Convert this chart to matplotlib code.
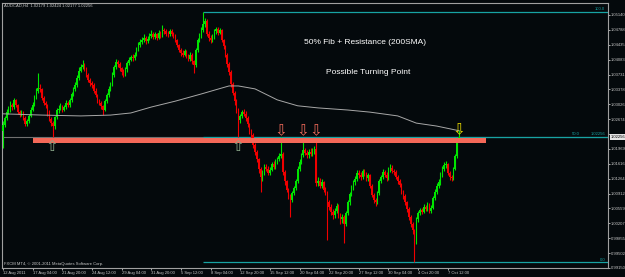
import numpy as np
import matplotlib.pyplot as plt
from matplotlib.patches import Rectangle
import matplotlib.transforms as mtransforms

# AUDCAD H4 bars, prices given as pips above 1.0000 (negative = below parity)
first_open_pips = 240
close_pips = [
    254, 270, 285, 289, 301, 296, 313, 300, 285, 278,
    282, 270, 256, 262, 275, 290, 302, 318, 335, 342,
    338, 318, 305, 300, 282, 268, 258, 250, 272, 288,
    292, 298, 290, 296, 305, 300, 313, 326, 338, 348,
    365, 382, 390, 396, 388, 372, 360, 352, 348, 335,
    325, 312, 305, 298, 290, 310, 325, 338, 350, 372,
    390, 402, 398, 388, 380, 374, 385, 400, 408, 415,
    412, 420, 432, 443, 450, 455, 460, 452, 458, 465,
    470, 462, 468, 460, 472, 466, 478, 475, 470, 468,
    476, 470, 465, 455, 443, 432, 425, 420, 428, 418,
    410, 420, 405, 395, 430, 455, 465, 478, 492, 500,
    470, 460, 455, 462, 475, 480, 472, 478, 455, 440,
    420, 398, 380, 350, 330, 310, 290, 265, 275, 285,
    280, 270, 255, 240, 230, 205, 190, 172, 150, 130,
    140, 155, 150, 140, 148, 160, 155, 165, 172, 180,
    185, 142, 120, 100, 85, 76, 92, 105, 120, 150,
    165, 182, 194, 188, 182, 190, 185, 192, 196, 115,
    122, 110, 118, 100, 95, 70, 60, 48, 40, 50,
    62, 40, 30, 35, 20, 45, 70, 90, 105, 118,
    125, 140, 135, 130, 145, 138, 128, 135, 110, 88,
    75, 70, 92, 120, 130, 142, 136, 128, 148, 152,
    145, 142, 130, 120, 112, 95, 85, 70, 55, 35,
    20, 5, -20, 30, 45, 52, 48, 60, 55, 64,
    50, 58, 80, 95, 110, 118, 135, 150, 158, 160,
    140, 130, 128, 150, 180, 217.9, 225.6,
]
high_pips = [
    262, 276, 292, 298, 310, 306, 318, 316, 304, 290,
    288, 286, 274, 268, 280, 296, 308, 325, 342, 377,
    350, 342, 322, 310, 304, 288, 272, 262, 276, 294,
    300, 305, 302, 300, 312, 310, 318, 332, 344, 355,
    372, 390, 398, 407, 400, 392, 376, 365, 358, 352,
    340, 328, 316, 310, 302, 315, 330, 345, 356, 378,
    396, 410, 408, 402, 392, 386, 390, 406, 415, 420,
    422, 426, 438, 450, 458, 462, 468, 465, 464, 472,
    478, 474, 474, 472, 478, 477, 490, 484, 480, 476,
    482, 480, 474, 468, 458, 446, 436, 430, 434, 432,
    422, 426, 424, 408, 435, 460, 472, 485, 522, 508,
    504, 475, 466, 468, 482, 486, 485, 484, 482, 458,
    444, 424, 402, 384, 356, 335, 315, 294, 280, 290,
    292, 286, 274, 258, 244, 234, 210, 195, 176, 154,
    146, 160, 162, 156, 154, 166, 168, 172, 178, 188,
    225, 190, 146, 124, 105, 90, 98, 110, 126, 156,
    172, 188, 223, 200, 195, 196, 198, 198, 204, 223,
    130, 128, 125, 122, 106, 98, 76, 66, 54, 56,
    68, 66, 45, 42, 40, 50, 75, 96, 112, 124,
    132, 148, 146, 142, 150, 150, 142, 140, 138, 114,
    92, 80, 98, 126, 136, 150, 148, 142, 155, 160,
    158, 150, 146, 134, 125, 116, 100, 90, 74, 60,
    40, 24, 8, 35, 50, 58, 58, 66, 65, 70,
    68, 64, 86, 102, 116, 125, 142, 156, 165, 168,
    164, 145, 136, 155, 186, 222, 242.4,
]
low_pips = [
    200, 248, 265, 280, 284, 290, 292, 295, 280, 272,
    274, 265, 250, 252, 258, 272, 286, 298, 314, 330,
    332, 312, 300, 294, 276, 262, 250, 225, 244, 268,
    282, 288, 284, 286, 292, 295, 296, 308, 322, 334,
    344, 360, 378, 386, 382, 368, 355, 346, 342, 330,
    320, 306, 300, 292, 277, 286, 306, 320, 334, 346,
    368, 386, 392, 382, 372, 368, 370, 380, 396, 404,
    406, 408, 416, 428, 438, 446, 450, 446, 448, 454,
    460, 456, 458, 454, 456, 460, 462, 470, 465, 462,
    464, 465, 460, 450, 438, 426, 418, 414, 416, 412,
    404, 406, 398, 377, 390, 426, 450, 460, 474, 486,
    465, 452, 448, 450, 458, 470, 466, 468, 450, 434,
    414, 392, 372, 344, 324, 302, 282, 225, 258, 270,
    274, 264, 248, 232, 222, 198, 182, 165, 140, 95,
    122, 135, 144, 134, 135, 144, 150, 150, 160, 168,
    175, 136, 112, 94, 78, 36, 70, 88, 100, 116,
    145, 160, 178, 182, 176, 176, 180, 180, 186, 110,
    108, 104, 104, 95, 88, -19, 52, 40, 32, 34,
    44, 34, 20, 22, -26, 14, 40, 64, 85, 100,
    112, 120, 128, 124, 126, 132, 122, 122, 104, 82,
    68, 62, 66, 88, 115, 126, 130, 122, 124, 142,
    140, 136, 125, 114, 106, 90, 78, 64, 48, 28,
    12, -4, -71, -28, 25, 40, 42, 44, 50, 50,
    46, 46, 54, 75, 90, 105, 112, 130, 145, 152,
    135, 124, 120, 124, 146, 176, 217.7,
]

# 200 SMA read at a few bars
sma_bars = [0, 21, 42, 58, 69, 80, 93, 107, 118, 122, 127, 136, 148, 159,
            170, 186, 198, 213, 223, 234, 246]
sma_pips = [280, 277, 275, 277, 282, 296, 310, 327, 341, 346, 346, 339, 313,
            299, 294, 289, 284, 275, 258, 251, 240]

date_labels = ['12 Aug 2011', '17 Aug 04:00', '21 Aug 20:00', '24 Aug 12:00',
               '29 Aug 04:00', '31 Aug 20:00', '5 Sep 12:00', '8 Sep 04:00',
               '12 Sep 20:00', '15 Sep 12:00', '20 Sep 04:00', '22 Sep 20:00',
               '27 Sep 12:00', '30 Sep 04:00', '4 Oct 20:00', '7 Oct 12:00']

fib_high = 1.05220
fib_low = 0.99292
fib_start_bar = 108
resistance = 1.0223
last_price = 1.02256

close = 1 + np.array(close_pips) / 10000
high = 1 + np.array(high_pips) / 10000
low = 1 + np.array(low_pips) / 10000
opens = np.concatenate(([1 + first_open_pips / 10000], close[:-1]))
sma = 1 + np.array(sma_pips) / 10000
n = len(close)
x = np.arange(n)

bg = '#04090c'
green = '#00e400'
red = '#f00000'
teal = '#17a3a3'
axis_c = '#c8c8c8'
small = 3.0
lab_font = 'Liberation Sans'

fig = plt.figure(figsize=(6.25, 2.77), dpi=100, facecolor=bg)
ax = fig.add_axes([2 / 625, 9 / 277, 606 / 625, 265 / 277])
ax.set_facecolor(bg)
ax.set_xlim(-0.5, -0.5 + 606 / 1.8537)
ax.set_ylim(0.99149, 1.05424)

# resistance line (grey) under everything
ax.axhline(resistance + 0.0001, color='#707070', lw=0.8, zorder=1)

# fib levels
for lvl in [fib_high, (fib_high + fib_low) / 2, fib_low]:
    ax.hlines(lvl, fib_start_bar, ax.get_xlim()[1], color=teal, lw=0.9, zorder=1)

# candles
up = close >= opens
cols = np.where(up, green, red)
ax.vlines(x, low, high, colors=cols, lw=0.8, zorder=3)
body = np.maximum(np.abs(close - opens), 0.00004)
ax.bar(x, body, bottom=np.minimum(opens, close), width=0.8, color=cols, lw=0, zorder=3)

# 200 SMA
ax.plot(sma_bars, sma, color='#a8a8a8', lw=0.7, zorder=4)

# resistance band
ax.add_patch(Rectangle((16.2, 1.0211), 260.6 - 16.2, 0.00115, color='#f46858', lw=0, zorder=5))

# arrows
for b, p in [(26.5, 1.0203), (126.8, 1.0203)]:
    ax.text(b, p, '\u21e7', color='#8aa88a', fontsize=11, ha='center', va='center', zorder=6)
for b in [150.0, 161.9, 168.9]:
    ax.text(b, 1.0240, '\u21e9', color='#f06a5a', fontsize=11, ha='center', va='center', zorder=6)
ax.text(246, 1.0242, '\u21e9', color='#e8d800', fontsize=11, ha='center', va='center', zorder=6)

# fib labels
xr = ax.get_xlim()[1] - 1.5
mid = (fib_high + fib_low) / 2
ax.text(xr, fib_high + 0.0001, '100.0', color=teal, fontsize=small, family=lab_font, ha='right', va='bottom')
ax.text(xr, mid + 0.0001, '1.02256', color=teal, fontsize=small, family=lab_font, ha='right', va='bottom')
ax.text(xr - 14, mid + 0.0001, '50.0', color=teal, fontsize=small, family=lab_font, ha='right', va='bottom')
ax.text(xr, fib_low + 0.0001, '0.0', color=teal, fontsize=small, family=lab_font, ha='right', va='bottom')

# axes styling
for s in ax.spines.values():
    s.set_color('#a0a0a0')
    s.set_linewidth(0.8)
ax.yaxis.tick_right()
yt = np.linspace(0.9915, 1.0514, 18)
ax.set_yticks(yt)
# the label under the current-price box is hidden in the terminal
ax.set_yticklabels(['' if abs(v - last_price) < 0.001 else '%.5f' % v for v in yt])
ax.set_xticks(np.arange(0, 16 * len(date_labels), 16))
ax.set_xticklabels(date_labels, ha='left')
ax.tick_params(axis='both', colors=axis_c, labelsize=small, length=1.5, width=0.6, pad=0.6)
for t in ax.get_xticklabels() + ax.get_yticklabels():
    t.set_family(lab_font)

# current price box
trans = mtransforms.blended_transform_factory(ax.transAxes, ax.transData)
ax.text(1.004, last_price, '1.02256', transform=trans, fontsize=small, family=lab_font,
        color='black', ha='left', va='center', zorder=10, clip_on=False,
        bbox=dict(boxstyle='square,pad=0.2', fc='#e6e6e6', ec='none'))

# annotations
fig.text(365 / 625, 1 - 43 / 277, '50% Fib + Resistance (200SMA)', color='white',
         fontsize=6, family='Liberation Sans', ha='center', va='center')
fig.text(368 / 625, 1 - 73 / 277, 'Possible Turning Point', color='white',
         fontsize=6, family='Liberation Sans', ha='center', va='center')
fig.text(4 / 625, 1 - 6 / 277, 'AUDCAD,H4  1.02179 1.02424 1.02177 1.02256',
         color=axis_c, fontsize=small, family=lab_font, ha='left', va='center')
fig.text(4 / 625, 1 - 264 / 277, 'FXCM MT4, \u00a9 2001-2011 MetaQuotes Software Corp.',
         color=axis_c, fontsize=small, family=lab_font, ha='left', va='center')

fig.savefig('out.png', dpi=100, facecolor=bg)
